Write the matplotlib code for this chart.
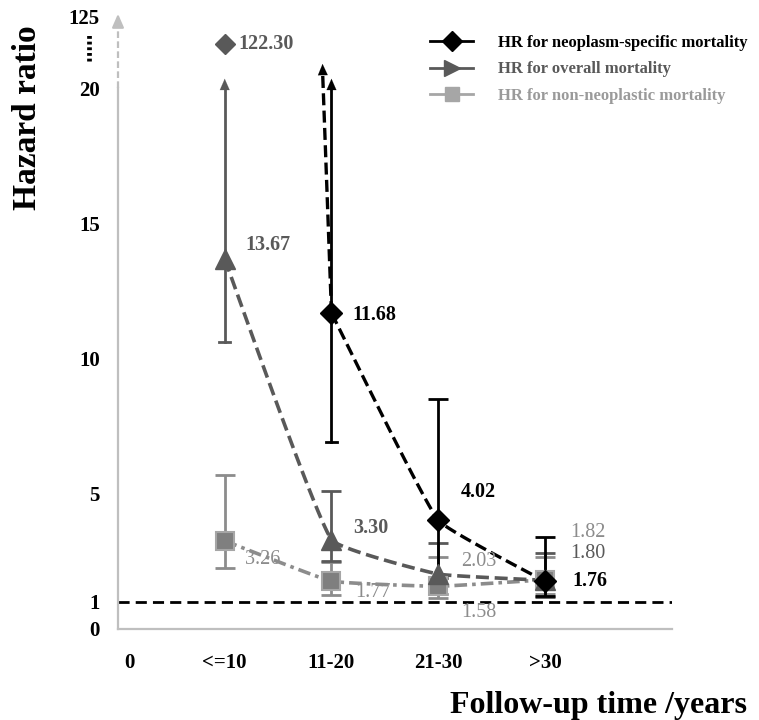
import numpy as np
import matplotlib
matplotlib.use("Agg")
import matplotlib.pyplot as plt
from matplotlib.lines import Line2D
from matplotlib.transforms import blended_transform_factory

plt.rcParams['font.family'] = ['Liberation Serif', 'DejaVu Serif']
plt.rcParams['font.weight'] = 'bold'

# ---- data -------------------------------------------------------------
tick_labels = ["0", "<=10", "11-20", "21-30", ">30"]
tick_pos = [0.11, 1, 2, 3, 4]
groups = [1, 2, 3, 4]                      # positions of <=10 .. >30

neo_hr = [122.30, 11.68, 4.02, 1.76]
neo_lo = [np.nan, 6.90, 1.90, 1.22]
neo_hi = [np.nan, 40.0, 8.50, 3.40]

all_hr = [13.67, 3.30, 2.03, 1.80]
all_lo = [10.60, 2.50, 1.30, 1.20]
all_hi = [40.0, 5.10, 3.19, 2.80]

non_hr = [3.26, 1.77, 1.58, 1.82]
non_lo = [2.26, 1.26, 1.15, 1.30]
non_hi = [5.70, 2.48, 2.67, 2.67]

ytick_vals = [0, 1, 5, 10, 15, 20]

# ---- styling ----------------------------------------------------------
BLACK = "#000000"
DARK = "#595959"
LIGHT = "#8c8c8c"
SQ_FACE = "#7f7f7f"
SQ_EDGE = "#a6a6a6"
AXIS = "#bfbfbf"

BREAK = 20.0        # axis is linear up to here
ARROW_TOP = 20.45   # arrow tip for open-ended CIs
LINE_TOP = 21.0     # where the neoplasm curve leaves the frame
FAR_POS = 21.65     # display height used for the 122.30 point
LABEL_125 = 22.65
PX_X, PX_Y = 107.0, 27.0   # screen scale, used only to shape the smoothing


def smooth(xs, ys, s=0.1, n=30):
    # Bezier smoothing in screen space, control arms scaled by segment length
    p = np.column_stack([np.array(xs) * PX_X, np.array(ys) * PX_Y]).astype(float)
    npt = len(p)
    d = np.zeros_like(p)
    for i in range(npt):
        a = p[max(i - 1, 0)]
        b = p[min(i + 1, npt - 1)]
        v = b - a
        d[i] = v / np.hypot(*v)
    t = np.linspace(0, 1, n)[:, None]
    out = []
    for i in range(npt - 1):
        L = np.hypot(*(p[i + 1] - p[i]))
        c1 = p[i] + d[i] * L * s
        c2 = p[i + 1] - d[i + 1] * L * s
        seg = ((1 - t) ** 3) * p[i] + 3 * ((1 - t) ** 2) * t * c1 \
            + 3 * (1 - t) * t ** 2 * c2 + t ** 3 * p[i + 1]
        out.append(seg if i == 0 else seg[1:])
    out = np.vstack(out)
    return out[:, 0] / PX_X, out[:, 1] / PX_Y


fig = plt.figure(figsize=(7.59, 7.2), dpi=100)
ax = fig.add_axes([118 / 759, 91 / 720, 554 / 759, 622 / 720])
ax.set_xlim(0.0, 5.19)
ax.set_ylim(0, 23)

# axes
for s in ["top", "right"]:
    ax.spines[s].set_visible(False)
ax.spines["left"].set_bounds(0, BREAK)
ax.spines["left"].set_color(AXIS)
ax.spines["left"].set_linewidth(1.6)
ax.spines["bottom"].set_color(AXIS)
ax.spines["bottom"].set_linewidth(1.6)
x0 = ax.get_xlim()[0]
ax.plot([x0, x0], [BREAK, 22.3], color=AXIS, lw=1.6, ls=(0, (3, 1.5)), clip_on=False)
ax.annotate("", xy=(x0, 22.85), xytext=(x0, 22.2),
            arrowprops=dict(arrowstyle="-|>,head_length=0.8,head_width=0.35",
                            color=AXIS, lw=1.6), annotation_clip=False)

ax.set_xticks(tick_pos)
ax.set_xticklabels(tick_labels, fontsize=15, fontweight="bold")
ax.set_yticks(ytick_vals + [LABEL_125])
ax.set_yticklabels([str(v) for v in ytick_vals] + ["125"], fontsize=15, fontweight="bold")
ax.tick_params(axis="both", length=0)
ax.tick_params(axis="x", pad=17)
ax.tick_params(axis="y", pad=13)

# dotted break marker between the "20" and "125" labels
trans = blended_transform_factory(ax.transAxes, ax.transData)
ax.plot([-0.052, -0.052], [21.0, 22.0], transform=trans, color=BLACK,
        lw=3.4, ls=(0, (0.6, 0.6)), clip_on=False)

# reference line HR = 1
ax.axhline(1, color=BLACK, lw=2, ls=(0, (4, 2.2)), zorder=1)

# ---- connecting curves ------------------------------------------------
sx, sy = smooth(groups, non_hr)
ax.plot(sx, sy, color=LIGHT, lw=2.6, ls=(0, (3.5, 1.4, 1, 1.4)), zorder=2)

sx, sy = smooth(groups, all_hr)
ax.plot(sx, sy, color=DARK, lw=2.6, ls=(0, (3.6, 1.6)), zorder=3)

sx, sy = smooth(groups[1:], neo_hr[1:])
ax.plot(sx, sy, color=BLACK, lw=2.4, ls=(0, (3.6, 1.6)), zorder=4)
# steep part toward 122.30 leaves the frame; slope follows the real values
slope = (neo_hr[1] - neo_hr[0]) / (groups[1] - groups[0])
x_top = groups[1] + (LINE_TOP - neo_hr[1]) / slope
ax.plot([groups[1], x_top], [neo_hr[1], LINE_TOP - 0.3], color=BLACK, lw=2.4,
        ls=(0, (3.6, 1.6)), zorder=4)
ax.annotate("", xy=(x_top, LINE_TOP), xytext=(x_top + 0.003, LINE_TOP - 0.5),
            arrowprops=dict(arrowstyle="-|>,head_length=0.8,head_width=0.35",
                            color=BLACK, lw=0.1), zorder=5)


# ---- error bars -------------------------------------------------------
def bars(lo, hi, color, z):
    for x, l, h in zip(groups, lo, hi):
        if np.isnan(l):
            continue
        if h > BREAK:
            ax.plot([x, x], [l, ARROW_TOP - 0.4], color=color, lw=2, zorder=z)
            ax.plot([x - 0.05, x + 0.05], [l, l], color=color, lw=2, zorder=z)
            ax.annotate("", xy=(x, ARROW_TOP), xytext=(x, ARROW_TOP - 0.6),
                        arrowprops=dict(arrowstyle="-|>,head_length=0.8,head_width=0.35",
                                        color=color, lw=0.1), zorder=z)
        else:
            ax.errorbar(x, (l + h) / 2, yerr=(h - l) / 2, fmt="none", ecolor=color,
                        elinewidth=2, capsize=7, capthick=2, zorder=z)


bars(non_lo, non_hi, LIGHT, 5)
bars(all_lo, all_hi, DARK, 6)
bars(neo_lo, neo_hi, BLACK, 7)

# ---- markers ----------------------------------------------------------
ax.plot(groups, non_hr, ls="none", marker="s", ms=13, mfc=SQ_FACE, mec=SQ_EDGE,
        mew=1.5, zorder=8)
ax.plot(groups, all_hr, ls="none", marker="^", ms=14, color=DARK, zorder=9)
ax.plot(groups[1:], neo_hr[1:], ls="none", marker="D", ms=11, color=BLACK, zorder=10)
ax.plot(groups[0], FAR_POS, ls="none", marker="D", ms=10, color=DARK, zorder=10,
        clip_on=False)

# ---- value labels -----------------------------------------------------
def lab(x, y, txt, dx, dy, color, bold=True):
    ax.annotate(txt, (x, y), xytext=(dx * 0.72, dy * 0.72), textcoords="offset points",
                ha="left", va="center", fontsize=14.5, color=color,
                fontweight="bold" if bold else "normal", zorder=11)


lab(groups[0], FAR_POS, f"{neo_hr[0]:.2f}", 14, 0, DARK)
lab(groups[1], neo_hr[1], f"{neo_hr[1]:.2f}", 21, -2, BLACK)
lab(groups[2], neo_hr[2], f"{neo_hr[2]:.2f}", 23, 28, BLACK)
lab(groups[3], neo_hr[3], f"{neo_hr[3]:.2f}", 27, 0, BLACK)

lab(groups[0], all_hr[0], f"{all_hr[0]:.2f}", 21, 14, DARK)
lab(groups[1], all_hr[1], f"{all_hr[1]:.2f}", 22, 12, DARK)
lab(groups[2], all_hr[2], f"{all_hr[2]:.2f}", 23, 13, LIGHT, False)
lab(groups[3], all_hr[3], f"{all_hr[3]:.2f}", 25, 27, DARK, False)

lab(groups[0], non_hr[0], f"{non_hr[0]:.2f}", 20, -19, LIGHT, False)
lab(groups[1], non_hr[1], f"{non_hr[1]:.2f}", 24, -11, LIGHT, False)
lab(groups[2], non_hr[2], f"{non_hr[2]:.2f}", 23, -26, LIGHT, False)
lab(groups[3], non_hr[3], f"{non_hr[3]:.2f}", 25, 47, LIGHT, False)

# ---- legend -----------------------------------------------------------
handles = [
    Line2D([], [], color=BLACK, lw=2, marker="D", ms=10),
    Line2D([], [], color=DARK, lw=2, marker=">", ms=11),
    Line2D([], [], color=SQ_EDGE, lw=2, marker="s", ms=10),
]
labels = ["HR for neoplasm-specific mortality", "HR for overall mortality",
          "HR for non-neoplastic mortality"]
fig.legend(handles, labels, loc="upper left", bbox_to_anchor=(430 / 759, 1 - 35 / 720),
           frameon=False, borderpad=0, borderaxespad=0, handlelength=2.6,
           handletextpad=1.5, labelspacing=0.62, labelcolor=[BLACK, DARK, "#9a9a9a"],
           prop={"size": 12, "weight": "bold"})

# ---- axis titles ------------------------------------------------------
fig.text(27 / 759, 1 - 118 / 720, "Hazard ratio", rotation=90, ha="center",
         va="center", fontsize=24, fontweight="bold")
fig.text(747 / 759, 1 - 705 / 720, "Follow-up time /years", ha="right",
         va="center", fontsize=23, fontweight="bold")

fig.savefig("out.png", dpi=100)
